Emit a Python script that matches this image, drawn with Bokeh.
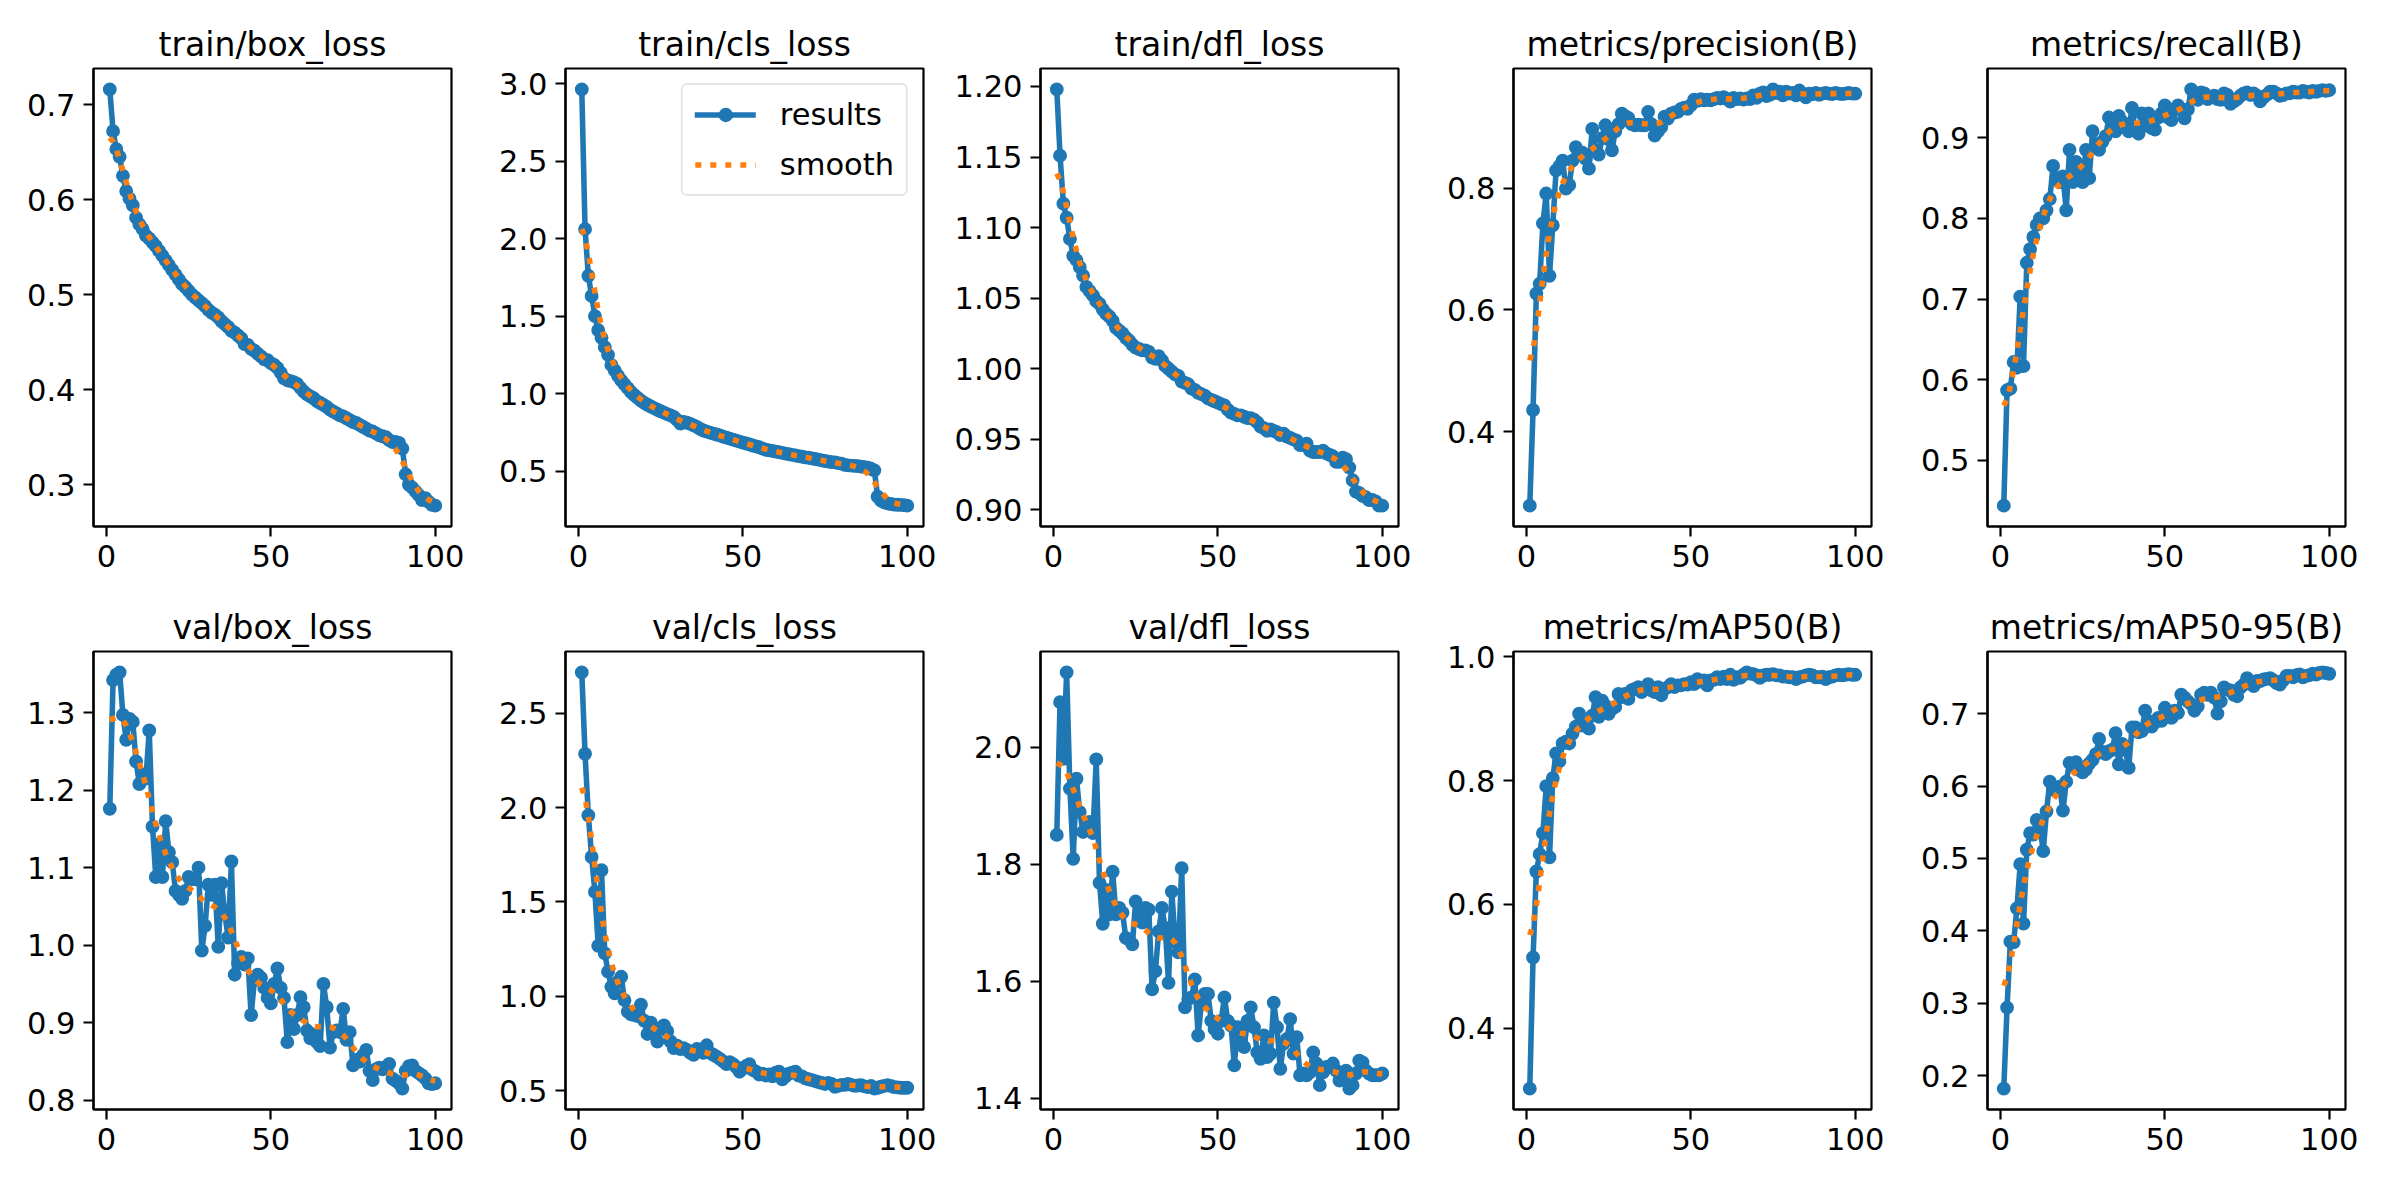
import numpy as np
from bokeh.plotting import figure
from bokeh.layouts import gridplot
from bokeh.models import Range1d, FixedTicker, PrintfTickFormatter, Legend, LegendItem
from bokeh.embed import file_html
from bokeh.resources import INLINE

epochs = list(range(1, 101))

train_box_loss = [
    0.716, 0.672, 0.653, 0.645, 0.625, 0.609, 0.601, 0.594, 0.581, 0.574,
    0.569, 0.562, 0.559, 0.555, 0.551, 0.546, 0.541, 0.536, 0.531, 0.526,
    0.521, 0.516, 0.511, 0.508, 0.504, 0.500, 0.497, 0.494, 0.491, 0.488,
    0.484, 0.481, 0.479, 0.476, 0.472, 0.469, 0.466, 0.462, 0.460, 0.457,
    0.454, 0.448, 0.447, 0.443, 0.441, 0.438, 0.435, 0.432, 0.431, 0.428,
    0.426, 0.423, 0.418, 0.412, 0.410, 0.409, 0.408, 0.406, 0.402, 0.398,
    0.395, 0.393, 0.391, 0.388, 0.386, 0.384, 0.382, 0.379, 0.377, 0.375,
    0.373, 0.372, 0.370, 0.368, 0.366, 0.365, 0.363, 0.361, 0.359, 0.357,
    0.356, 0.354, 0.352, 0.351, 0.350, 0.347, 0.345, 0.345, 0.344, 0.338,
    0.311, 0.300, 0.297, 0.293, 0.289, 0.284, 0.286, 0.282, 0.279, 0.278]

train_cls_loss = [
    2.963, 2.061, 1.760, 1.630, 1.500, 1.410, 1.360, 1.300, 1.250, 1.185,
    1.150, 1.115, 1.085, 1.060, 1.035, 1.010, 0.990, 0.972, 0.955, 0.940,
    0.928, 0.917, 0.906, 0.896, 0.886, 0.877, 0.868, 0.859, 0.850, 0.830,
    0.806, 0.818, 0.812, 0.805, 0.795, 0.785, 0.772, 0.762, 0.755, 0.748,
    0.742, 0.736, 0.730, 0.722, 0.716, 0.710, 0.703, 0.697, 0.690, 0.684,
    0.678, 0.672, 0.665, 0.660, 0.654, 0.645, 0.638, 0.634, 0.630, 0.626,
    0.622, 0.618, 0.613, 0.609, 0.605, 0.601, 0.597, 0.593, 0.589, 0.586,
    0.582, 0.578, 0.574, 0.569, 0.565, 0.561, 0.558, 0.556, 0.552, 0.548,
    0.540, 0.537, 0.535, 0.534, 0.532, 0.529, 0.526, 0.522, 0.515, 0.505,
    0.335, 0.310, 0.298, 0.292, 0.288, 0.284, 0.283, 0.282, 0.280, 0.277]

train_dfl_loss = [
    1.198, 1.151, 1.117, 1.107, 1.092, 1.080, 1.077, 1.072, 1.066, 1.058,
    1.055, 1.052, 1.048, 1.046, 1.042, 1.039, 1.037, 1.034, 1.029, 1.027,
    1.025, 1.022, 1.020, 1.017, 1.015, 1.014, 1.013, 1.013, 1.012, 1.008,
    1.007, 1.009, 1.006, 1.002, 1.000, 0.998, 0.996, 0.995, 0.991, 0.990,
    0.989, 0.986, 0.985, 0.983, 0.982, 0.981, 0.979, 0.978, 0.977, 0.976,
    0.975, 0.974, 0.971, 0.969, 0.968, 0.967, 0.967, 0.966, 0.965, 0.965,
    0.964, 0.962, 0.959, 0.958, 0.956, 0.957, 0.956, 0.955, 0.953, 0.954,
    0.952, 0.951, 0.950, 0.949, 0.946, 0.946, 0.947, 0.942, 0.941, 0.941,
    0.941, 0.942, 0.940, 0.939, 0.938, 0.934, 0.934, 0.937, 0.936, 0.930,
    0.921, 0.913, 0.912, 0.910, 0.909, 0.907, 0.907, 0.906, 0.903, 0.903]

precision = [
    0.279, 0.436, 0.627, 0.643, 0.742, 0.791, 0.656, 0.739, 0.829, 0.836,
    0.845, 0.799, 0.805, 0.845, 0.867, 0.855, 0.858, 0.848, 0.832, 0.897,
    0.862, 0.855, 0.882, 0.903, 0.880, 0.862, 0.893, 0.905, 0.922, 0.918,
    0.915, 0.905, 0.903, 0.904, 0.903, 0.903, 0.925, 0.905, 0.886, 0.893,
    0.900, 0.917, 0.914, 0.922, 0.924, 0.925, 0.930, 0.932, 0.930, 0.936,
    0.945, 0.943, 0.946, 0.944, 0.945, 0.944, 0.946, 0.948, 0.947, 0.949,
    0.946, 0.942, 0.948, 0.946, 0.947, 0.945, 0.947, 0.946, 0.952, 0.948,
    0.955, 0.957, 0.951, 0.953, 0.962, 0.956, 0.958, 0.952, 0.958, 0.955,
    0.956, 0.952, 0.960, 0.955, 0.949, 0.955, 0.954, 0.956, 0.953, 0.955,
    0.956, 0.955, 0.954, 0.956, 0.955, 0.954, 0.955, 0.956, 0.955, 0.955]

recall = [
    0.444, 0.587, 0.589, 0.622, 0.615, 0.703, 0.617, 0.745, 0.762, 0.777,
    0.792, 0.800, 0.800, 0.810, 0.824, 0.865, 0.850, 0.845, 0.852, 0.810,
    0.885, 0.845, 0.870, 0.855, 0.845, 0.885, 0.850, 0.908, 0.890, 0.885,
    0.895, 0.902, 0.925, 0.915, 0.908, 0.927, 0.920, 0.915, 0.908, 0.937,
    0.910, 0.905, 0.930, 0.915, 0.930, 0.912, 0.910, 0.925, 0.930, 0.940,
    0.925, 0.922, 0.935, 0.940, 0.935, 0.924, 0.935, 0.960, 0.950, 0.947,
    0.956, 0.955, 0.948, 0.950, 0.952, 0.948, 0.947, 0.955, 0.953, 0.942,
    0.945, 0.948, 0.952, 0.955, 0.956, 0.953, 0.955, 0.952, 0.945, 0.950,
    0.953, 0.957, 0.957, 0.955, 0.952, 0.953, 0.955, 0.955, 0.957, 0.956,
    0.956, 0.958, 0.957, 0.956, 0.958, 0.957, 0.958, 0.959, 0.958, 0.959]

val_box_loss = [
    1.176, 1.342, 1.349, 1.352, 1.297, 1.265, 1.292, 1.288, 1.237, 1.208,
    1.220, 1.215, 1.277, 1.153, 1.088, 1.130, 1.088, 1.160, 1.120, 1.107,
    1.070, 1.065, 1.060, 1.070, 1.088, 1.085, 1.085, 1.100, 0.993, 1.025,
    1.078, 1.065, 1.078, 0.998, 1.080, 1.040, 1.010, 1.108, 0.962, 0.977,
    0.985, 0.975, 0.983, 0.910, 0.955, 0.962, 0.958, 0.945, 0.932, 0.925,
    0.950, 0.970, 0.945, 0.932, 0.875, 0.910, 0.892, 0.910, 0.933, 0.920,
    0.890, 0.880, 0.885, 0.875, 0.870, 0.950, 0.920, 0.868, 0.888, 0.890,
    0.888, 0.918, 0.878, 0.888, 0.845, 0.852, 0.850, 0.858, 0.865, 0.838,
    0.826, 0.840, 0.842, 0.840, 0.843, 0.847, 0.828, 0.825, 0.822, 0.815,
    0.838, 0.844, 0.845, 0.838, 0.835, 0.832, 0.828, 0.822, 0.821, 0.822]

val_cls_loss = [
    2.717, 2.285, 1.959, 1.738, 1.553, 1.267, 1.668, 1.227, 1.130, 1.050,
    1.015, 1.077, 1.103, 0.979, 0.918, 0.904, 0.900, 0.895, 0.955, 0.870,
    0.800, 0.860, 0.810, 0.760, 0.830, 0.845, 0.815, 0.760, 0.725, 0.738,
    0.720, 0.725, 0.715, 0.700, 0.690, 0.720, 0.710, 0.700, 0.740, 0.700,
    0.690, 0.680, 0.668, 0.655, 0.640, 0.650, 0.640, 0.625, 0.600, 0.615,
    0.630, 0.640, 0.610, 0.600, 0.585, 0.590, 0.580, 0.585, 0.575, 0.595,
    0.600, 0.560, 0.575, 0.590, 0.595, 0.600, 0.580, 0.575, 0.565, 0.560,
    0.555, 0.550, 0.545, 0.540, 0.535, 0.540, 0.535, 0.520, 0.525, 0.530,
    0.530, 0.535, 0.530, 0.525, 0.527, 0.528, 0.522, 0.518, 0.525, 0.510,
    0.515, 0.520, 0.525, 0.528, 0.525, 0.518, 0.517, 0.515, 0.514, 0.515]

val_dfl_loss = [
    1.850, 2.077, 1.980, 2.128, 1.929, 1.809, 1.946, 1.889, 1.855, 1.858,
    1.872, 1.853, 1.979, 1.768, 1.698, 1.756, 1.714, 1.787, 1.714, 1.725,
    1.717, 1.674, 1.671, 1.663, 1.736, 1.708, 1.700, 1.725, 1.722, 1.586,
    1.617, 1.685, 1.725, 1.691, 1.597, 1.753, 1.668, 1.649, 1.793, 1.555,
    1.569, 1.572, 1.603, 1.507, 1.561, 1.578, 1.578, 1.532, 1.518, 1.510,
    1.532, 1.572, 1.532, 1.524, 1.456, 1.521, 1.501, 1.487, 1.532, 1.555,
    1.521, 1.478, 1.467, 1.507, 1.470, 1.476, 1.563, 1.521, 1.450, 1.493,
    1.501, 1.535, 1.476, 1.504, 1.439, 1.442, 1.439, 1.444, 1.478, 1.459,
    1.422, 1.444, 1.453, 1.453, 1.459, 1.447, 1.430, 1.442, 1.447, 1.416,
    1.422, 1.442, 1.464, 1.461, 1.447, 1.442, 1.439, 1.439, 1.439, 1.442]

map50 = [
    0.302, 0.514, 0.653, 0.681, 0.715, 0.791, 0.676, 0.804, 0.844, 0.831,
    0.860, 0.863, 0.860, 0.876, 0.887, 0.908, 0.889, 0.892, 0.884, 0.905,
    0.935, 0.903, 0.929, 0.921, 0.908, 0.916, 0.919, 0.940, 0.935, 0.940,
    0.932, 0.946, 0.948, 0.951, 0.943, 0.948, 0.956, 0.946, 0.943, 0.951,
    0.938, 0.948, 0.951, 0.956, 0.951, 0.954, 0.954, 0.956, 0.955, 0.959,
    0.956, 0.964, 0.960, 0.962, 0.954, 0.962, 0.963, 0.967, 0.964, 0.968,
    0.964, 0.971, 0.963, 0.967, 0.966, 0.971, 0.975, 0.973, 0.972, 0.970,
    0.966, 0.970, 0.971, 0.971, 0.972, 0.970, 0.970, 0.968, 0.968, 0.967,
    0.967, 0.964, 0.967, 0.968, 0.970, 0.971, 0.970, 0.967, 0.967, 0.968,
    0.964, 0.967, 0.968, 0.970, 0.971, 0.970, 0.971, 0.972, 0.971, 0.971]

map50_95 = [
    0.182, 0.294, 0.385, 0.384, 0.431, 0.492, 0.410, 0.512, 0.535, 0.533,
    0.553, 0.545, 0.510, 0.565, 0.606, 0.595, 0.595, 0.599, 0.566, 0.606,
    0.632, 0.628, 0.633, 0.622, 0.619, 0.623, 0.631, 0.636, 0.644, 0.665,
    0.647, 0.644, 0.648, 0.650, 0.673, 0.630, 0.658, 0.650, 0.625, 0.681,
    0.681, 0.674, 0.676, 0.704, 0.690, 0.682, 0.688, 0.694, 0.690, 0.708,
    0.699, 0.694, 0.704, 0.701, 0.726, 0.722, 0.717, 0.713, 0.704, 0.710,
    0.726, 0.729, 0.726, 0.729, 0.722, 0.700, 0.717, 0.736, 0.733, 0.732,
    0.726, 0.724, 0.736, 0.740, 0.749, 0.742, 0.738, 0.745, 0.745, 0.747,
    0.748, 0.749, 0.746, 0.742, 0.740, 0.746, 0.752, 0.752, 0.750, 0.753,
    0.754, 0.750, 0.752, 0.753, 0.755, 0.754, 0.756, 0.757, 0.756, 0.755]

titles = ["train/box_loss", "train/cls_loss", "train/dfl_loss",
          "metrics/precision(B)", "metrics/recall(B)",
          "val/box_loss", "val/cls_loss", "val/dfl_loss",
          "metrics/mAP50(B)", "metrics/mAP50-95(B)"]
series = [train_box_loss, train_cls_loss, train_dfl_loss, precision, recall,
          val_box_loss, val_cls_loss, val_dfl_loss, map50, map50_95]
yticks = [[0.3, 0.4, 0.5, 0.6, 0.7],
          [0.5, 1.0, 1.5, 2.0, 2.5, 3.0],
          [0.90, 0.95, 1.00, 1.05, 1.10, 1.15, 1.20],
          [0.4, 0.6, 0.8],
          [0.5, 0.6, 0.7, 0.8, 0.9],
          [0.8, 0.9, 1.0, 1.1, 1.2, 1.3],
          [0.5, 1.0, 1.5, 2.0, 2.5],
          [1.4, 1.6, 1.8, 2.0],
          [0.4, 0.6, 0.8, 1.0],
          [0.2, 0.3, 0.4, 0.5, 0.6, 0.7]]
yformats = ["%.1f", "%.1f", "%.2f", "%.1f", "%.1f", "%.1f", "%.1f", "%.1f", "%.1f", "%.1f"]
xticks = [0, 50, 100]
legend_labels = ["results", "smooth"]


def gaussian_smooth(y, sigma=3.0):
    # same as scipy.ndimage.gaussian_filter1d (mode="reflect", truncate=4)
    y = np.asarray(y, dtype=float)
    r = int(4.0 * sigma + 0.5)
    k = np.exp(-0.5 * (np.arange(-r, r + 1) / sigma) ** 2)
    k /= k.sum()
    yp = np.concatenate([y[r - 1::-1], y, y[:-r - 1:-1]])
    return np.convolve(yp, k, mode="valid")


BLUE = "#1f77b4"
ORANGE = "#ff7f0e"
FONT = "DejaVu Sans"
TICK_FS = "30.5px"
TITLE_FS = "33px"
CELL_W, CELL_H = 474, 583
FRAME_W = 358
left_borders = [93, 91, 92, 91, 91]

x = np.array(epochs, dtype=float)
xpad = 0.05 * (x.max() - x.min())

figs = []
for i, (title, yv, ticks, fmt) in enumerate(zip(titles, series, yticks, yformats)):
    assert len(yv) == 100
    y = np.array(yv, dtype=float)
    ys = gaussian_smooth(y)
    allv = np.concatenate([y, ys])
    lo, hi = allv.min(), allv.max()
    ypad = 0.05 * (hi - lo)
    lb = left_borders[i % 5]
    p = figure(width=CELL_W, height=CELL_H, output_backend="svg", toolbar_location=None,
               x_range=Range1d(x.min() - xpad, x.max() + xpad),
               y_range=Range1d(lo - ypad, hi + ypad),
               min_border_left=lb, min_border_right=CELL_W - lb - FRAME_W,
               min_border_top=68, min_border_bottom=57)
    p.title.text = title
    p.title.align = "center"
    p.title.text_font = FONT
    p.title.text_font_size = TITLE_FS
    p.title.text_font_style = "normal"
    p.title.text_color = "black"
    p.title.standoff = 10
    p.xgrid.visible = False
    p.ygrid.visible = False
    p.outline_line_color = "black"
    p.outline_line_width = 2.2
    p.outline_line_alpha = 1.0
    p.background_fill_color = "white"
    p.border_fill_color = "white"
    for ax in (p.xaxis[0], p.yaxis[0]):
        ax.axis_line_color = "black"
        ax.axis_line_width = 2.2
        ax.major_tick_out = 10
        ax.major_tick_in = 0
        ax.major_tick_line_width = 2.2
        ax.major_tick_line_color = "black"
        ax.minor_tick_out = 0
        ax.minor_tick_in = 0
        ax.major_label_text_font = FONT
        ax.major_label_text_font_size = TICK_FS
        ax.major_label_text_color = "black"
        ax.major_label_standoff = 8
    p.xaxis.ticker = FixedTicker(ticks=xticks)
    p.xaxis.formatter = PrintfTickFormatter(format="%d")
    p.yaxis.ticker = FixedTicker(ticks=ticks)
    p.yaxis.formatter = PrintfTickFormatter(format=fmt)

    lr = p.line(x, y, line_color=BLUE, line_width=5.56, line_join="round", line_cap="square")
    sr = p.scatter(x, y, size=11.1, fill_color=BLUE, line_color=BLUE, line_width=2.78)
    smr = p.line(x, ys, line_color=ORANGE, line_width=5.56, line_dash="6 9")

    if i == 1:
        legend = Legend(items=[LegendItem(label=legend_labels[0], renderers=[lr, sr]),
                               LegendItem(label=legend_labels[1], renderers=[smr])],
                        location="top_right")
        legend.label_text_font = FONT
        legend.label_text_font_size = TICK_FS
        legend.label_text_color = "black"
        legend.glyph_width = 61
        legend.glyph_height = 29
        legend.label_height = 29
        legend.spacing = 15
        legend.padding = 12
        legend.margin = 15
        legend.label_standoff = 24
        legend.border_line_color = "#cccccc"
        legend.border_line_width = 2.2
        legend.border_radius = 6
        legend.background_fill_alpha = 0.8
        p.add_layout(legend)
    figs.append(p)

grid = gridplot(figs, ncols=5, toolbar_location=None)
open("out.html", "w").write(file_html(grid, INLINE))
